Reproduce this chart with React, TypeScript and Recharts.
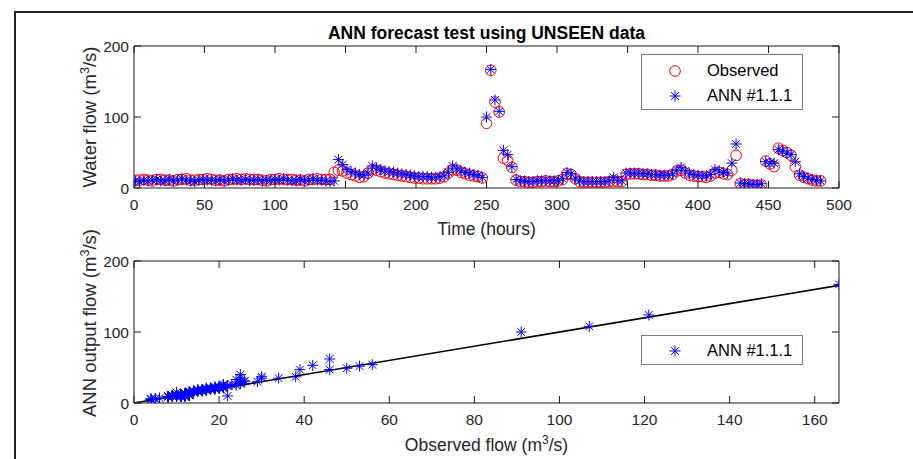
import React from "react"
import { Legend, ReferenceLine, Scatter, ScatterChart, XAxis, YAxis } from "recharts"

// readings taken every 3 h, first one at hour 1
const FIRST_HOUR = 1
const STEP_HOURS = 3

const observed = [
  11, 11, 12, 11, 10, 12, 12, 11, 11, 10,
  12, 12, 13, 11, 11, 12, 12, 13, 12, 11,
  11, 10, 12, 12, 13, 12, 13, 12, 12, 12,
  11, 10, 12, 12, 13, 12, 12, 12, 11, 11,
  10, 12, 12, 13, 12, 12, 12, 22, 25, 24,
  21, 19, 17, 15, 16, 21, 26, 25, 23, 21,
  20, 19, 18, 17, 16, 15, 14, 14, 13, 13,
  13, 13, 14, 16, 21, 26, 25, 22, 20, 18,
  17, 16, 14, 91, 165.7, 121, 107, 42, 39, 29,
  11, 9, 9, 8, 8, 9, 9, 10, 9, 9,
  10, 12, 20, 19, 13, 9, 8, 8, 8, 8,
  8, 8, 9, 10, 9, 9, 19, 20, 20, 20,
  19, 19, 18, 18, 17, 17, 17, 19, 24, 25,
  21, 18, 17, 16, 16, 15, 17, 21, 22, 20,
  19, 25, 46, 6, 5, 5, 4, 4, 4, 38,
  34, 30, 56, 53, 50, 46, 30, 18, 15, 13,
  11, 10, 10,
]

const annOutput = [
  10, 9, 11, 10, 11, 12, 10, 10, 12, 10,
  11, 13, 11, 10, 9, 11, 12, 11, 11, 10,
  12, 10, 11, 13, 11, 11, 12, 10, 11, 12,
  10, 11, 11, 12, 11, 13, 11, 10, 10, 12,
  10, 11, 13, 11, 11, 10, 9, 10, 40, 33,
  26, 23, 21, 19, 18, 21, 31, 28, 26, 24,
  23, 22, 21, 20, 19, 18, 17, 16, 16, 16,
  15, 15, 16, 17, 22, 31, 27, 24, 22, 21,
  19, 18, 15, 100, 167, 124, 108, 53, 47, 30,
  12, 10, 10, 9, 9, 10, 10, 11, 10, 10,
  11, 13, 22, 20, 14, 10, 9, 9, 9, 9,
  9, 9, 10, 15, 11, 10, 21, 21, 21, 21,
  20, 20, 19, 19, 18, 18, 18, 20, 25, 29,
  24, 20, 19, 18, 17, 17, 19, 26, 24, 22,
  21, 35, 62, 7, 6, 6, 5, 5, 6, 37,
  35, 35, 54, 52, 49, 47, 37, 20, 16, 14,
  12, 11, 10,
]

const timeTicks = [0, 50, 100, 150, 200, 250, 300, 350, 400, 450, 500]
const flowTicks = [0, 100, 200]
const obsTicks = [0, 20, 40, 60, 80, 100, 120, 140, 160]

const hours = observed.map((_, i) => FIRST_HOUR + STEP_HOURS * i)
const observedSeries = hours.map((h, i) => ({ hour: h, flow: observed[i] }))
const annSeries = hours.map((h, i) => ({ hour: h, flow: annOutput[i] }))
const scatterSeries = observed.map((o, i) => ({ obs: o, ann: annOutput[i] }))
const maxObserved = Math.max(...observed)

const FONT = '"Liberation Sans", Arial, Helvetica, sans-serif'
const AX = "#1a1a1a"
const TXT = "#262626"
const RED = "#ff0000"
const BLUE = "#0000ff"
const TICK = 7
const FS_TICK = 15.5
const FS_LABEL = 17.5
const FS_YLABEL = 18.5

const Ring = (p: any) => (
  <circle cx={p.cx} cy={p.cy} r={5.3} fill="none" stroke={RED} strokeWidth={1} />
)

const Star = (p: any) => {
  const r = 5.5
  const d = r * 0.7071
  return (
    <g stroke={BLUE} strokeWidth={1}>
      <line x1={p.cx - r} y1={p.cy} x2={p.cx + r} y2={p.cy} />
      <line x1={p.cx} y1={p.cy - r} x2={p.cx} y2={p.cy + r} />
      <line x1={p.cx - d} y1={p.cy - d} x2={p.cx + d} y2={p.cy + d} />
      <line x1={p.cx - d} y1={p.cy + d} x2={p.cx + d} y2={p.cy - d} />
    </g>
  )
}

const BottomTick = (p: any) => (
  <g>
    <line x1={p.x} y1={p.y} x2={p.x} y2={p.y - TICK} stroke={AX} />
    <text x={p.x} y={p.y + 22} textAnchor="middle" fontSize={FS_TICK} fill={TXT} fontFamily={FONT}>
      {p.payload.value}
    </text>
  </g>
)

const TopTick = (p: any) => <line x1={p.x} y1={p.y} x2={p.x} y2={p.y + TICK} stroke={AX} />

const LeftTick = (p: any) => (
  <g>
    <line x1={p.x} y1={p.y} x2={p.x + TICK} y2={p.y} stroke={AX} />
    <text x={p.x - 5} y={p.y} dy="0.36em" textAnchor="end" fontSize={FS_TICK} fill={TXT} fontFamily={FONT}>
      {p.payload.value}
    </text>
  </g>
)

const RightTick = (p: any) => <line x1={p.x} y1={p.y} x2={p.x - TICK} y2={p.y} stroke={AX} />

function LegendBox({ items, height }: { items: { label: string; icon: "ring" | "star" }[]; height: number }) {
  return (
    <div
      style={{
        width: 162,
        height,
        boxSizing: "border-box",
        border: "1px solid #7a7a7a",
        background: "#fff",
        paddingTop: items.length > 1 ? 3 : 2,
        fontFamily: FONT,
        color: "#000",
      }}
    >
      {items.map((it) => (
        <div key={it.label} style={{ display: "flex", alignItems: "center", height: 25 }}>
          <svg width={65} height={20} style={{ flex: "none" }}>
            {it.icon === "ring" ? <Ring cx={33} cy={10} /> : <Star cx={33} cy={10} />}
          </svg>
          <span style={{ fontSize: 16.5, whiteSpace: "nowrap" }}>{it.label}</span>
        </div>
      ))}
    </div>
  )
}

function FlowTitle({ x, y, text }: { x: number; y: number; text: string }) {
  return (
    <text
      x={x}
      y={y}
      transform={`rotate(-90 ${x} ${y})`}
      textAnchor="middle"
      fontSize={FS_YLABEL}
      fill={TXT}
      fontFamily={FONT}
    >
      {text} (m<tspan dy={-7} fontSize={12.5}>3</tspan>
      <tspan dy={7}>/s)</tspan>
    </text>
  )
}

export default function App() {
  return (
    <div style={{ position: "absolute", left: 0, top: 0, width: 913, height: 459, background: "#fff", overflow: "hidden" }}>
      <div style={{ position: "absolute", left: 0, top: 0 }}>
        <ScatterChart width={913} height={240} margin={{ top: 45, right: 73, bottom: 22, left: 94 }}>
          <XAxis xAxisId="b" type="number" dataKey="hour" domain={[0, 500]} ticks={timeTicks} interval={0}
            allowDataOverflow height={30} tickSize={0} tickMargin={0} tickLine={false}
            axisLine={{ stroke: AX }} tick={(p: any) => <BottomTick {...p} />} />
          <XAxis xAxisId="t" orientation="top" type="number" dataKey="hour" domain={[0, 500]} ticks={timeTicks}
            interval={0} allowDataOverflow height={1} tickSize={0} tickMargin={0} tickLine={false}
            axisLine={{ stroke: AX }} tick={(p: any) => <TopTick {...p} />} />
          <YAxis yAxisId="l" type="number" dataKey="flow" domain={[0, 200]} ticks={flowTicks} interval={0}
            allowDataOverflow width={40} tickSize={0} tickMargin={0} tickLine={false}
            axisLine={{ stroke: AX }} tick={(p: any) => <LeftTick {...p} />} />
          <YAxis yAxisId="r" orientation="right" type="number" dataKey="flow" domain={[0, 200]} ticks={flowTicks}
            interval={0} allowDataOverflow width={1} tickSize={0} tickMargin={0} tickLine={false}
            axisLine={{ stroke: AX }} tick={(p: any) => <RightTick {...p} />} />
          <Scatter name="Observed" xAxisId="b" yAxisId="l" data={observedSeries} shape={Ring} isAnimationActive={false} />
          <Scatter name="ANN #1.1.1" xAxisId="b" yAxisId="l" data={annSeries} shape={Star} isAnimationActive={false} />
          <Legend layout="horizontal" verticalAlign="middle" align="center"
            wrapperStyle={{ left: 641, top: 54, width: 162, height: 56 }}
            content={() => (
              <LegendBox height={56} items={[{ label: "Observed", icon: "ring" }, { label: "ANN #1.1.1", icon: "star" }]} />
            )} />
        </ScatterChart>
      </div>

      <div style={{ position: "absolute", left: 0, top: 230 }}>
        <ScatterChart width={913} height={229} margin={{ top: 30, right: 73, bottom: 26, left: 94 }}>
          <XAxis xAxisId="b" type="number" dataKey="obs" domain={[0, maxObserved]} ticks={obsTicks} interval={0}
            allowDataOverflow height={30} tickSize={0} tickMargin={0} tickLine={false}
            axisLine={{ stroke: AX }} tick={(p: any) => <BottomTick {...p} />} />
          <XAxis xAxisId="t" orientation="top" type="number" dataKey="obs" domain={[0, maxObserved]} ticks={obsTicks}
            interval={0} allowDataOverflow height={1} tickSize={0} tickMargin={0} tickLine={false}
            axisLine={{ stroke: AX }} tick={(p: any) => <TopTick {...p} />} />
          <YAxis yAxisId="l" type="number" dataKey="ann" domain={[0, 200]} ticks={flowTicks} interval={0}
            allowDataOverflow width={40} tickSize={0} tickMargin={0} tickLine={false}
            axisLine={{ stroke: AX }} tick={(p: any) => <LeftTick {...p} />} />
          <YAxis yAxisId="r" orientation="right" type="number" dataKey="ann" domain={[0, 200]} ticks={flowTicks}
            interval={0} allowDataOverflow width={1} tickSize={0} tickMargin={0} tickLine={false}
            axisLine={{ stroke: AX }} tick={(p: any) => <RightTick {...p} />} />
          <Scatter name="ANN #1.1.1" xAxisId="b" yAxisId="l" data={scatterSeries} shape={Star} isAnimationActive={false} />
          <ReferenceLine xAxisId="b" yAxisId="l" ifOverflow="visible"
            segment={[{ x: 0, y: 0 }, { x: maxObserved, y: maxObserved }]} stroke="#000" strokeWidth={1.6} />
          <Legend layout="horizontal" verticalAlign="middle" align="center"
            wrapperStyle={{ left: 641, top: 105, width: 162, height: 30 }}
            content={() => <LegendBox height={30} items={[{ label: "ANN #1.1.1", icon: "star" }]} />} />
        </ScatterChart>
      </div>

      <svg width={913} height={459} style={{ position: "absolute", left: 0, top: 0, pointerEvents: "none" }}>
        <line x1={15} y1={12} x2={913} y2={12} stroke="#222" strokeWidth={2} />
        <line x1={15} y1={11} x2={15} y2={459} stroke="#222" strokeWidth={2} />
        <text x={486.5} y={38.5} textAnchor="middle" fontSize={17.5} fontWeight="bold" fill="#000" fontFamily={FONT}>
          ANN forecast test using UNSEEN data
        </text>
        <text x={486.5} y={235} textAnchor="middle" fontSize={FS_LABEL} fill={TXT} fontFamily={FONT}>
          Time (hours)
        </text>
        <text x={486.5} y={451} textAnchor="middle" fontSize={FS_LABEL} fill={TXT} fontFamily={FONT}>
          Observed flow (m<tspan dy={-7} fontSize={12}>3</tspan>
          <tspan dy={7}>/s)</tspan>
        </text>
        <FlowTitle x={96} y={117} text="Water flow" />
        <FlowTitle x={96} y={323} text="ANN output flow" />
      </svg>
    </div>
  )
}
